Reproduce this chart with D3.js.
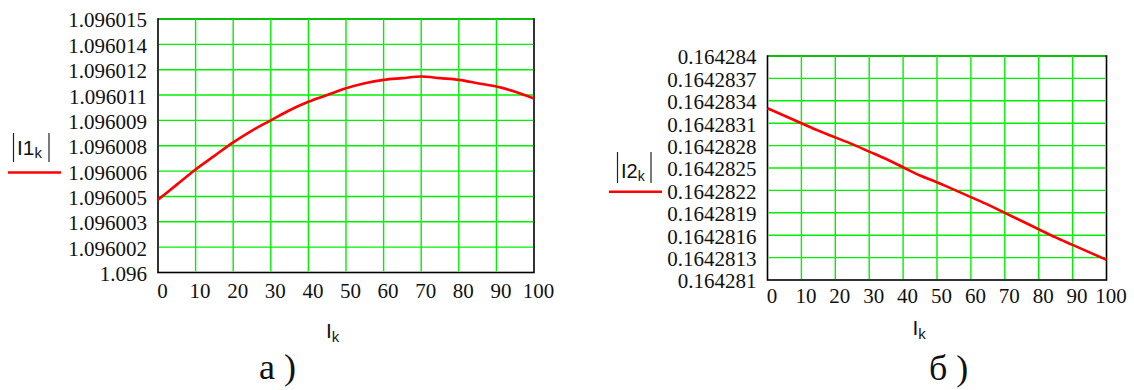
<!DOCTYPE html>
<html>
<head>
<meta charset="utf-8">
<script src="https://cdn.jsdelivr.net/npm/d3@7"></script>
<style>
  html, body { margin: 0; padding: 0; background: #fff; }
  svg { display: block; }
  .serif { font-family: "Liberation Serif", "Tinos", "Times New Roman", Times, "Noto Serif", "DejaVu Serif", "FreeSerif", serif; }
  .sans { font-family: "Liberation Sans", Arimo, Arial, sans-serif; }
</style>
</head>
<body>
<svg id="chart" width="1134" height="390"></svg>
<script>
// ---- data ----
const xValues = [0,5,10,15,20,25,30,35,40,45,50,55,60,65,70,75,80,85,90,95,100];
const xTickValues = [0,10,20,30,40,50,60,70,80,90,100];

const i1Data = [1.0960043, 1.0960052, 1.0960061, 1.0960069, 1.0960077, 1.0960084, 1.0960090,
                1.0960096, 1.0960101, 1.0960105, 1.0960109, 1.0960112, 1.0960114, 1.0960115,
                1.0960116, 1.0960115, 1.0960114, 1.0960112, 1.0960110, 1.0960107, 1.0960103];
const i1Domain = [1.096, 1.096015];
const i1TickLabels = ["1.096","1.096002","1.096003","1.096005","1.096006","1.096008",
                      "1.096009","1.096011","1.096012","1.096014","1.096015"];

const i2Data = [0.16428330, 0.16428320, 0.16428310, 0.16428300, 0.16428291, 0.16428282, 0.16428272,
                0.16428262, 0.16428251, 0.16428240, 0.16428231, 0.16428221, 0.16428211, 0.16428201,
                0.16428190, 0.16428179, 0.16428168, 0.16428157, 0.16428147, 0.16428137, 0.16428127];
const i2Domain = [0.164281, 0.164284];
const i2TickLabels = ["0.164281","0.1642813","0.1642816","0.1642819","0.1642822","0.1642825",
                      "0.1642828","0.1642831","0.1642834","0.1642837","0.164284"];

const seriesNames = ["I1", "I2"];
const xTitle = "I";
const subscript = "k";
const panelLabels = ["a )", "б )"];

// ---- drawing ----
const svg = d3.select("#chart");
const GRID = "#00f000";

const panels = [
  { values: i1Data, domain: i1Domain, labels: i1TickLabels, name: seriesNames[0], tag: panelLabels[0],
    left: 158, right: 534, top: 19, bottom: 272.5, xPad: 11,
    ylab: { barL: 13.5, barR: 49, barT: 133, barB: 162, tx: 17, ty: 155, fs: 21,
            lx1: 8, lx2: 61, ly: 172.5 },
    xt: { x: 326, y: 338 }, tagPos: { x: 259, y: 379 } },
  { values: i2Data, domain: i2Domain, labels: i2TickLabels, name: seriesNames[1], tag: panelLabels[1],
    left: 767.5, right: 1106.5, top: 56, bottom: 280, xPad: 8,
    ylab: { barL: 617.5, barR: 651, barT: 152, barB: 183, tx: 621, ty: 178, fs: 20,
            lx1: 609, lx2: 662, ly: 191.7 },
    xt: { x: 912.5, y: 335 }, tagPos: { x: 929, y: 380 } }
];

panels.forEach(p => {
  const x = d3.scaleLinear().domain([0, 100]).range([p.left, p.right]);
  const y = d3.scaleLinear().domain(p.domain).range([p.bottom, p.top]);
  const step = (p.domain[1] - p.domain[0]) / (p.labels.length - 1);
  const yTicks = p.labels.map((_, i) => p.domain[0] + i * step);

  const g = svg.append("g");

  g.append("rect")
    .attr("x", p.left).attr("y", p.top)
    .attr("width", p.right - p.left).attr("height", p.bottom - p.top)
    .attr("fill", "none").attr("stroke", "#000").attr("stroke-width", 1.6);

  g.append("g").selectAll("line").data(xTickValues.slice(1, -1)).join("line")
    .attr("x1", d => x(d)).attr("x2", d => x(d))
    .attr("y1", p.top).attr("y2", p.bottom - 1)
    .attr("stroke", GRID).attr("stroke-width", 1.4);
  g.append("g").selectAll("line").data(yTicks.slice(1)).join("line")
    .attr("x1", p.left + 1).attr("x2", p.right - 1)
    .attr("y1", d => y(d)).attr("y2", d => y(d))
    .attr("stroke", GRID).attr("stroke-width", 1.4);

  const yAxis = d3.axisLeft(y).tickValues(yTicks).tickSize(0).tickPadding(11)
    .tickFormat((d, i) => p.labels[i]);
  const ya = g.append("g").attr("transform", `translate(${p.left},0)`).call(yAxis);
  ya.attr("font-family", null).attr("font-size", null);
  ya.select(".domain").remove();
  ya.selectAll("text").attr("class", "serif").style("font-size", "21px")
    .attr("fill", "#111").attr("dy", "0.38em");

  const xAxis = d3.axisBottom(x).tickValues(xTickValues).tickSize(0).tickPadding(p.xPad)
    .tickFormat(d3.format("d"));
  const xa = g.append("g").attr("transform", `translate(4,${p.bottom})`).call(xAxis);
  xa.attr("font-family", null).attr("font-size", null);
  xa.select(".domain").remove();
  xa.selectAll("text").attr("class", "serif").style("font-size", "21px").attr("fill", "#111");

  const line = d3.line().x((d, i) => x(xValues[i])).y(d => y(d)).curve(d3.curveMonotoneX);
  g.append("path").datum(p.values)
    .attr("d", line).attr("fill", "none")
    .attr("stroke", "#ff0000").attr("stroke-width", 2.6).attr("stroke-linejoin", "round");

  const L = p.ylab;
  [L.barL, L.barR].forEach(bx => {
    g.append("line").attr("x1", bx).attr("x2", bx).attr("y1", L.barT).attr("y2", L.barB)
      .attr("stroke", "#222").attr("stroke-width", 1.2);
  });
  const yt = g.append("text").attr("class", "sans").attr("x", L.tx).attr("y", L.ty)
    .style("font-size", L.fs + "px").attr("fill", "#111");
  yt.append("tspan").text(p.name);
  yt.append("tspan").attr("dy", 3).style("font-size", Math.round(L.fs * 0.72) + "px").text(subscript);
  g.append("line").attr("x1", L.lx1).attr("x2", L.lx2).attr("y1", L.ly).attr("y2", L.ly)
    .attr("stroke", "#ff0000").attr("stroke-width", 2.6);

  const xtt = g.append("text").attr("class", "sans").attr("x", p.xt.x).attr("y", p.xt.y)
    .style("font-size", "21px").attr("fill", "#111");
  xtt.append("tspan").text(xTitle);
  xtt.append("tspan").attr("dy", 4).style("font-size", "15px").text(subscript);

  g.append("text").attr("class", "serif").attr("x", p.tagPos.x).attr("y", p.tagPos.y)
    .style("font-size", "36px").attr("fill", "#111")
    .text(p.tag);
});
</script>
</body>
</html>
